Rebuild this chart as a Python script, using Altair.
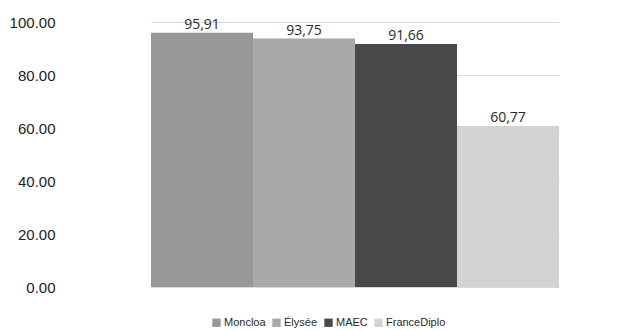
import altair as alt
import pandas as pd

series = ["Moncloa", "Élysée", "MAEC", "FranceDiplo"]
values = [95.91, 93.75, 91.66, 60.77]
labels = ["95,91", "93,75", "91,66", "60,77"]
colors = ["#98989a", "#a8a8aa", "#49494b", "#d3d3d5"]
y_ticks = [0, 20, 40, 60, 80, 100]

df = pd.DataFrame({"serie": series, "valor": values, "etiqueta": labels})

xscale = alt.Scale(domain=series, range=[87, 495], paddingInner=0, paddingOuter=0)
color = alt.Color(
    "serie:N",
    scale=alt.Scale(domain=series, range=colors),
    legend=alt.Legend(
        title=None,
        orient="none",
        direction="horizontal",
        legendX=147,
        legendY=295,
        symbolType="square",
        symbolSize=70,
        symbolStrokeWidth=0,
        labelFont="Liberation Sans",
        labelFontSize=11,
        labelColor="#2a2a2a",
        columnPadding=5,
        labelOffset=2,
    ),
)

base = alt.Chart(df)

bars = base.mark_bar(size=102, strokeWidth=0).encode(
    x=alt.X("serie:N", scale=xscale, axis=None, sort=series),
    y=alt.Y(
        "valor:Q",
        scale=alt.Scale(domain=[0, 100], nice=False),
        axis=alt.Axis(
            values=y_ticks,
            format=".2f",
            title=None,
            domain=False,
            ticks=False,
            labelPadding=9,
            labelFont="Liberation Sans",
            labelFontSize=15,
            labelColor="#222222",
            gridColor="#dadada",
            gridWidth=1,
        ),
    ),
    color=color,
)

text = base.mark_text(
    baseline="bottom", dy=-1, font="Open Sans", fontSize=14, color="#2a2a2a"
).encode(
    x=alt.X("serie:N", scale=xscale, sort=series),
    y=alt.Y("valor:Q"),
    text="etiqueta:N",
)

chart = (
    alt.layer(bars, text)
    .properties(
        width=575,
        height=265,
        padding={"left": 64, "top": 22, "right": 0, "bottom": 44},
        autosize=alt.AutoSizeParams(type="none"),
        background="white",
    )
    .configure_view(stroke=None)
)

chart.save("out.html", embed_options={"renderer": "svg", "actions": False})
